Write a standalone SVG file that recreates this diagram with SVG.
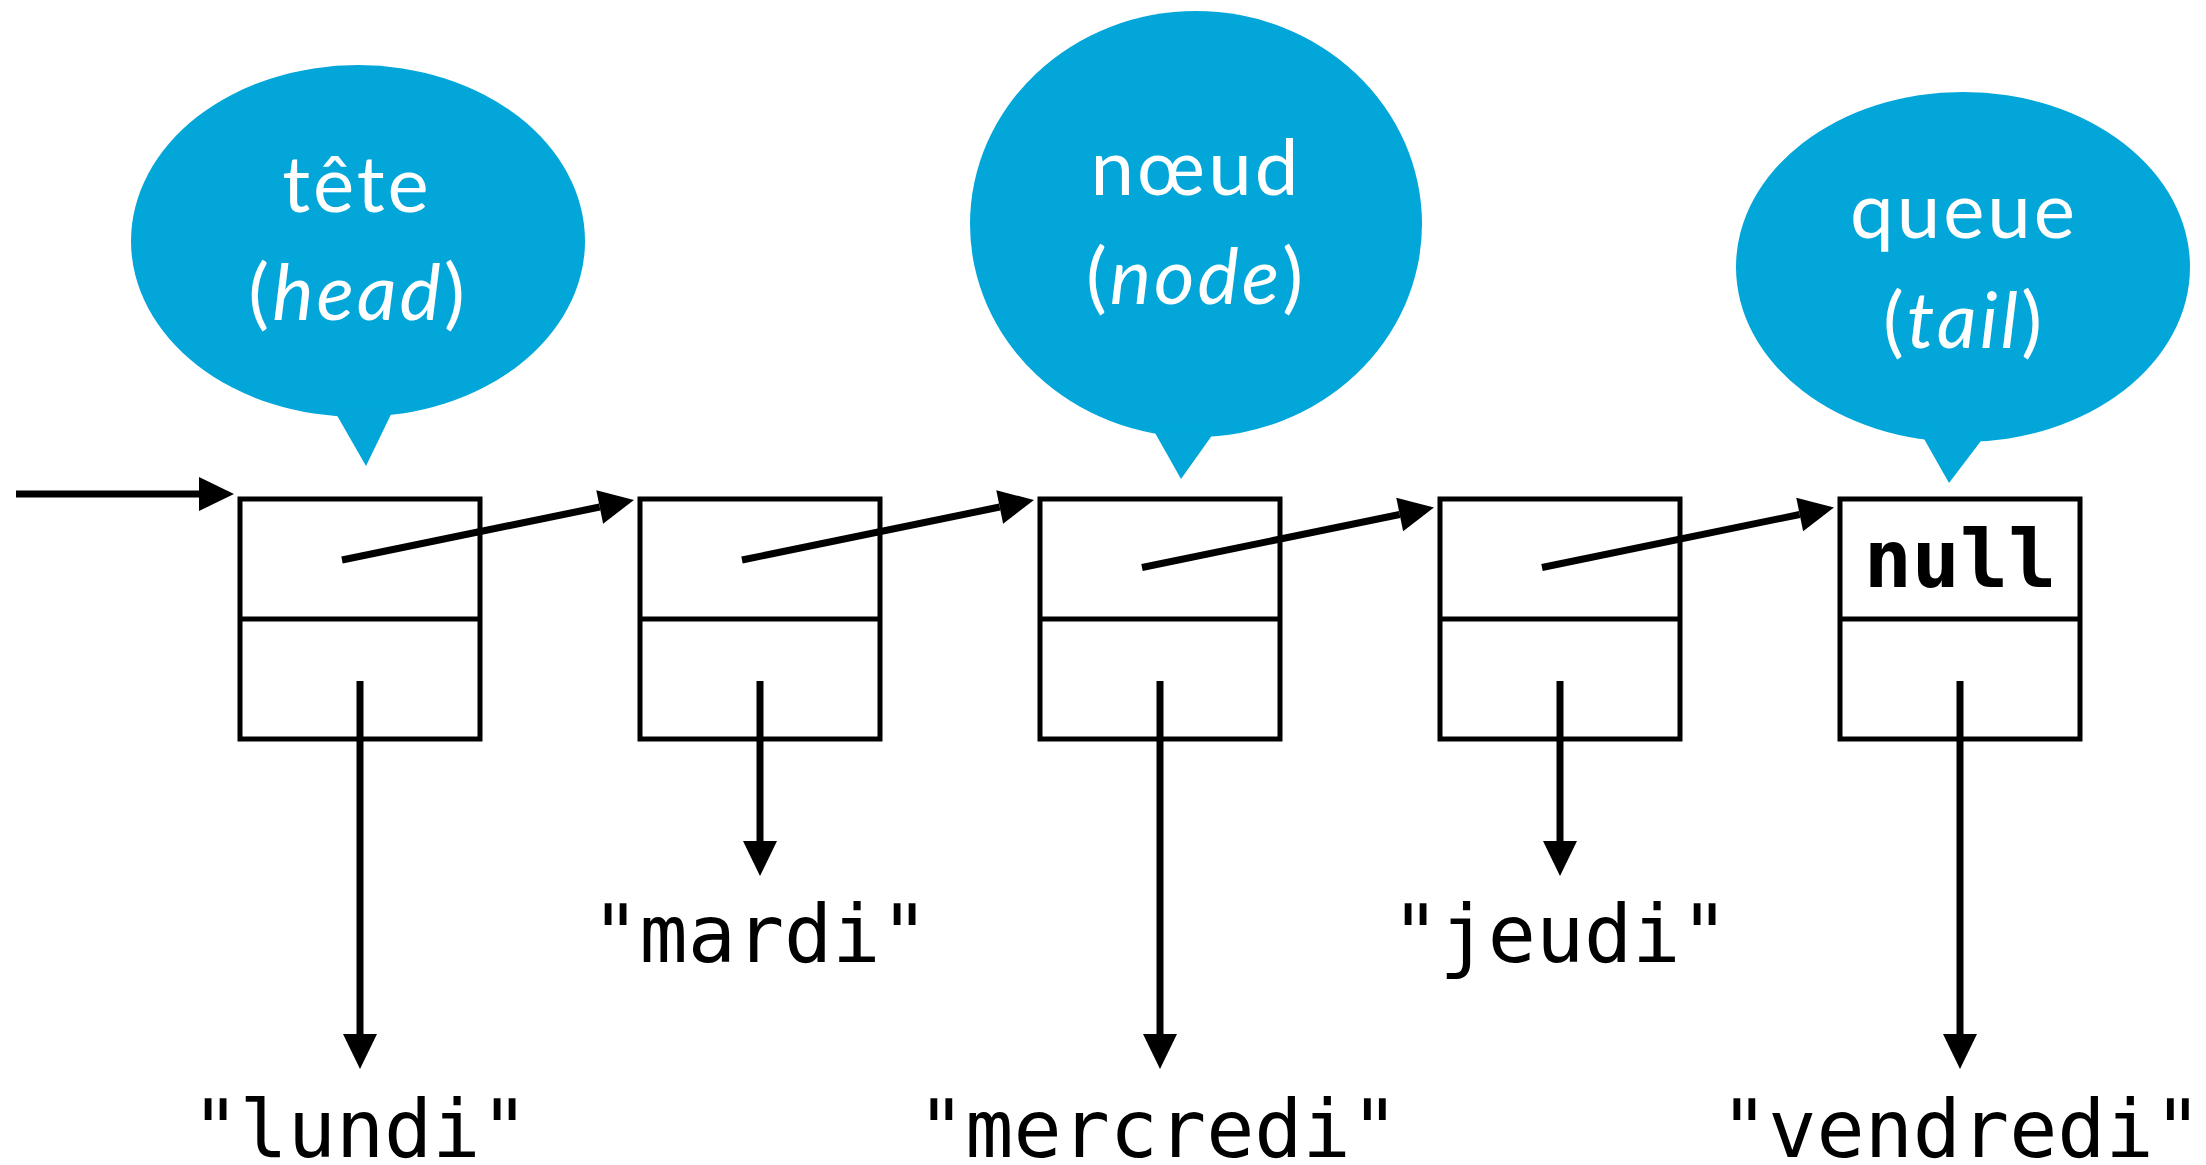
<svg xmlns="http://www.w3.org/2000/svg" width="2206" height="1165" viewBox="0 0 2206 1165">
  <style>
    .cell { fill: #ffffff; stroke: #000000; stroke-width: 5; }
    .div { stroke: #000000; stroke-width: 5; }
    .link { stroke: #000000; stroke-width: 7; fill: none; }
    .bubble { fill: #02a6d9; }
    .btext { fill: #ffffff; font-family: Lato, "Open Sans", sans-serif; font-weight: 400; font-size: 78px; text-anchor: middle; letter-spacing: 3px; }
    .it { font-style: italic; }
    .val { fill: #000000; font-family: "DejaVu Sans Mono", "Liberation Mono", monospace; font-size: 80px; text-anchor: middle; }
    .null { font-weight: bold; }
  </style>
  <defs>
    <marker id="head" markerUnits="userSpaceOnUse" markerWidth="35" markerHeight="34" refX="0" refY="17" orient="auto" overflow="visible">
      <path d="M0,0 L35,17 L0,34 Z" fill="#000000"/>
    </marker>
  </defs>

  <rect width="2206" height="1165" fill="#ffffff"/>

  <!-- callout bubbles -->
  <g id="bubble-tete">
    <ellipse class="bubble" cx="358" cy="241" rx="227" ry="176"/>
    <polygon class="bubble" points="331,405 396,404 366,466"/>
    <text class="btext" x="357" y="212">tête</text>
    <text class="btext" x="358" y="320">(<tspan class="it">head</tspan>)</text>
  </g>
  <g id="bubble-noeud">
    <ellipse class="bubble" cx="1196" cy="224" rx="226" ry="213"/>
    <polygon class="bubble" points="1150,424 1218,427 1181,479"/>
    <text class="btext" x="1196" y="195">nœud</text>
    <text class="btext" x="1196" y="304">(<tspan class="it">node</tspan>)</text>
  </g>
  <g id="bubble-queue">
    <ellipse class="bubble" cx="1963" cy="267" rx="227" ry="175"/>
    <polygon class="bubble" points="1919,430 1987,433 1949,483"/>
    <text class="btext" x="1964" y="238">queue</text>
    <text class="btext" x="1964" y="348">(<tspan class="it">tail</tspan>)</text>
  </g>

  <!-- list nodes: next field on top, value field below -->
  <g id="node-1">
    <rect class="cell" x="240" y="499" width="240" height="240"/>
    <line class="div" x1="240" y1="619" x2="480" y2="619"/>
  </g>
  <g id="node-2">
    <rect class="cell" x="640" y="499" width="240" height="240"/>
    <line class="div" x1="640" y1="619" x2="880" y2="619"/>
  </g>
  <g id="node-3">
    <rect class="cell" x="1040" y="499" width="240" height="240"/>
    <line class="div" x1="1040" y1="619" x2="1280" y2="619"/>
  </g>
  <g id="node-4">
    <rect class="cell" x="1440" y="499" width="240" height="240"/>
    <line class="div" x1="1440" y1="619" x2="1680" y2="619"/>
  </g>
  <g id="node-5">
    <rect class="cell" x="1840" y="499" width="240" height="240"/>
    <line class="div" x1="1840" y1="619" x2="2080" y2="619"/>
    <text class="val null" x="1960" y="587">null</text>
  </g>

  <!-- stored values -->
  <g id="values">
    <text class="val" x="360" y="1157">"lundi"</text>
    <text class="val" x="760" y="962">"mardi"</text>
    <text class="val" x="1158" y="1157">"mercredi"</text>
    <text class="val" x="1560" y="962">"jeudi"</text>
    <text class="val" x="1961" y="1157">"vendredi"</text>
  </g>

  <!-- pointers -->
  <g id="connectors">
    <line class="link" x1="16" y1="494" x2="199" y2="494" marker-end="url(#head)"/>
    <line class="link" x1="342" y1="560" x2="599.7" y2="507" marker-end="url(#head)"/>
    <line class="link" x1="742" y1="560" x2="999.7" y2="507" marker-end="url(#head)"/>
    <line class="link" x1="1142" y1="567.5" x2="1399.7" y2="514.5" marker-end="url(#head)"/>
    <line class="link" x1="1542" y1="567.5" x2="1799.7" y2="514.5" marker-end="url(#head)"/>
    <line class="link" x1="360" y1="681" x2="360" y2="1034" marker-end="url(#head)"/>
    <line class="link" x1="760" y1="681" x2="760" y2="841" marker-end="url(#head)"/>
    <line class="link" x1="1160" y1="681" x2="1160" y2="1034" marker-end="url(#head)"/>
    <line class="link" x1="1560" y1="681" x2="1560" y2="841" marker-end="url(#head)"/>
    <line class="link" x1="1960" y1="681" x2="1960" y2="1034" marker-end="url(#head)"/>
  </g>
</svg>
